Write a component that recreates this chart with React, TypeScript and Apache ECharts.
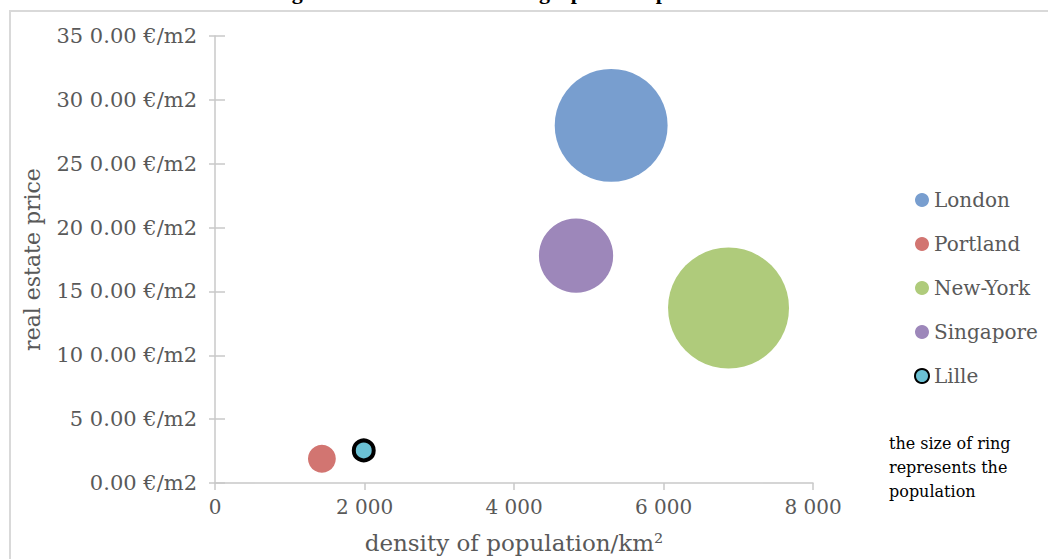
import React, { useEffect, useRef } from "react";
import * as echarts from "echarts";

const cities = ["London", "Portland", "New-York", "Singapore", "Lille"];
const density = [5300, 1430, 6870, 4830, 1990];
const price = [28000, 1900, 13700, 17800, 2550];
const population = [7.4, 0.45, 8.5, 3.2, 0.23];
const colors = ["#789ecf", "#d27571", "#afcb7b", "#9d87ba", "#6bc1d4"];

const xTickLabels = ["0", "2 000", "4 000", "6 000", "8 000"];
const yTickLabels = [
  "0.00 €/m2",
  "5 0.00 €/m2",
  "10 0.00 €/m2",
  "15 0.00 €/m2",
  "20 0.00 €/m2",
  "25 0.00 €/m2",
  "30 0.00 €/m2",
  "35 0.00 €/m2",
];

const titleText = "Figure 4. Economic and Geographic comparison criteria";
const noteLines = ["the size of ring", "represents the", "population"];

const FONT = "'DejaVu Serif', serif";
const GREY = "#595959";
const AXIS = "#c8c8c8";
const MAX_D = 121;

export default function App() {
  const ref = useRef<HTMLDivElement>(null);
  useEffect(() => {
    if (!ref.current) return;
    const chart = echarts.init(ref.current, undefined, { renderer: "svg" });
    const maxPop = Math.max(...population);
    const series = cities.map((name, i) => ({
      name,
      type: "scatter",
      symbol: "circle",
      symbolSize: MAX_D * Math.sqrt(population[i] / maxPop),
      data: [[density[i], price[i], population[i]]],
      itemStyle:
        name === "Lille"
          ? { color: colors[i], borderColor: "#000", borderWidth: 4, opacity: 1 }
          : { color: colors[i], opacity: 1 },
      emphasis: { disabled: true },
    }));
    chart.setOption({
      animation: false,
      grid: { left: 215, right: 235, top: 36, bottom: 72 },
      legend: {
        orient: "vertical",
        left: 909,
        top: 185,
        itemWidth: 14,
        itemHeight: 14,
        itemGap: 24,
        icon: "circle",
        textStyle: { fontFamily: FONT, fontSize: 20, color: GREY, lineHeight: 20 },
        data: cities,
      },
      xAxis: {
        type: "value",
        min: 0,
        max: 8000,
        interval: 2000,
        splitLine: { show: false },
        axisLine: { show: true, lineStyle: { color: AXIS, width: 1.5 } },
        axisTick: { show: true, length: 7, lineStyle: { color: AXIS, width: 1.5 } },
        axisLabel: {
          margin: 14,
          fontFamily: FONT,
          fontSize: 20,
          color: GREY,
          formatter: (_v: number, i: number) => xTickLabels[i],
        },
        name: "density of population/km²",
        nameLocation: "middle",
        nameGap: 48,
        nameTextStyle: { fontFamily: FONT, fontSize: 23, color: GREY },
      },
      yAxis: [
        {
          type: "value",
          min: 0,
          max: 35000,
          interval: 5000,
          splitLine: { show: false },
          axisLine: { show: true, lineStyle: { color: AXIS, width: 1.5 } },
          axisTick: { show: true, length: 6, lineStyle: { color: AXIS, width: 1.5 } },
          axisLabel: {
            margin: 18,
            fontFamily: FONT,
            fontSize: 21,
            color: GREY,
            formatter: (_v: number, i: number) => yTickLabels[i],
          },
          name: "real estate price",
          nameLocation: "middle",
          nameGap: 172,
          nameTextStyle: { fontFamily: FONT, fontSize: 22, color: GREY },
        },
        {
          type: "value",
          position: "left",
          min: 0,
          max: 35000,
          interval: 5000,
          splitLine: { show: false },
          axisLine: { show: false },
          axisTick: { show: true, inside: true, length: 10, lineStyle: { color: AXIS, width: 1.5 } },
          axisLabel: { show: false },
        },
      ],
      series,
      graphic: [
        {
          type: "rect",
          shape: { x: 10, y: 11, width: 1100, height: 600 },
          style: { fill: "none", stroke: "#d9d9d9", lineWidth: 2 },
          silent: true,
        },
        {
          type: "text",
          x: 537,
          y: 2,
          style: {
            text: titleText,
            font: "bold 22px 'Liberation Serif', serif",
            fill: "#000",
            align: "center",
            verticalAlign: "bottom",
          },
        },
        ...noteLines.map((t, i) => ({
          type: "text",
          x: 889,
          y: 443 + i * 24,
          style: {
            text: t,
            font: "16px 'DejaVu Serif', serif",
            fill: "#000",
            align: "left",
            verticalAlign: "middle",
          },
        })),
      ],
    });
    return () => chart.dispose();
  }, []);
  return (
    <div
      ref={ref}
      style={{ position: "fixed", left: 0, top: 0, width: 1048, height: 559, background: "#fff" }}
    />
  );
}
